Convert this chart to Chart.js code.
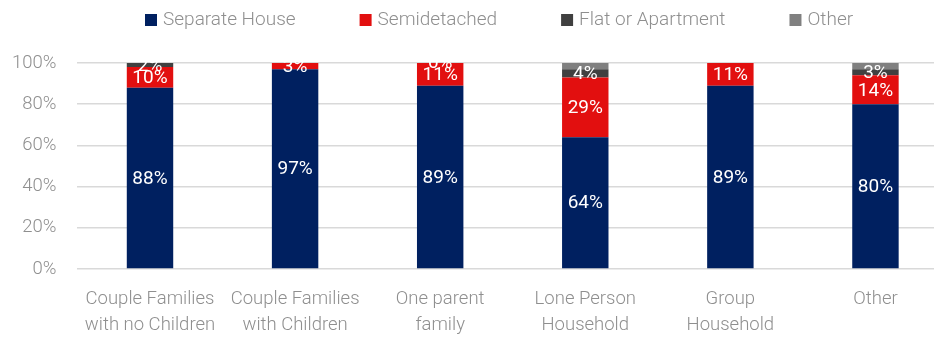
<!DOCTYPE html>
<html>
<head>
<meta charset="utf-8">
<script src="https://cdn.jsdelivr.net/npm/chart.js@4.4.0/dist/chart.umd.min.js"></script>
<style>
  html, body { margin: 0; padding: 0; background: #fff; overflow: hidden; height: 337px; }
  #wrap { width: 948px; height: 348px; }
</style>
</head>
<body>
<div id="wrap"><canvas id="chart-dwelling"></canvas></div>
<script>
const categorias = [
  ['Couple Families', 'with no Children'],
  ['Couple Families', 'with Children'],
  ['One parent', 'family'],
  ['Lone Person', 'Household'],
  ['Group', 'Household'],
  ['Other']
];
const separateHouse = [88, 97, 89, 64, 89, 80];
const semidetached = [10, 3, 11, 29, 11, 14];
const flatApartment = [2, 0, 0.4, 4, 0, 3];
const otherDwelling = [0, 0, 0, 3, 0, 3];
const yTicks = [0, 20, 40, 60, 80, 100];

const corTexto = '#8f8f8f';
const fonteTexto = { family: 'Roboto', size: 18.5, weight: 300, lineHeight: 1.38 };

// desenha os rótulos brancos no meio de cada segmento
const rotulosBarras = {
  id: 'rotulosBarras',
  afterDatasetsDraw(chart) {
    const ctx = chart.ctx;
    ctx.save();
    ctx.fillStyle = '#ffffff';
    ctx.font = '19px Roboto';
    ctx.textAlign = 'center';
    ctx.textBaseline = 'middle';
    chart.data.datasets.forEach((ds, i) => {
      if (i === 3) return; // série "Other" sem rótulo
      const meta = chart.getDatasetMeta(i);
      meta.data.forEach((bar, j) => {
        const v = ds.data[j];
        if (!v) return;
        const yMeio = (bar.y + bar.base) / 2;
        ctx.fillText(Math.round(v) + '%', bar.x, yMeio + 1);
      });
    });
    ctx.restore();
  }
};

// legenda própria (espaçamento horizontal largo, pouco espaço vertical)
const legendaTopo = {
  id: 'legendaTopo',
  afterDraw(chart) {
    const ctx = chart.ctx;
    ctx.save();
    ctx.font = '300 19px Roboto';
    ctx.textBaseline = 'middle';
    let x = 145;
    const y = 20;
    chart.data.datasets.forEach((ds) => {
      ctx.fillStyle = ds.backgroundColor;
      ctx.fillRect(x, y - 6, 12, 12);
      ctx.fillStyle = corTexto;
      ctx.fillText(ds.label, x + 18, y);
      x += 18 + ctx.measureText(ds.label).width + 64;
    });
    ctx.restore();
  }
};

const dataDwelling = {
  labels: categorias,
  datasets: [
    { label: 'Separate House', data: separateHouse, backgroundColor: '#002060' },
    { label: 'Semidetached', data: semidetached, backgroundColor: '#e20f0f' },
    { label: 'Flat or Apartment', data: flatApartment, backgroundColor: '#404040' },
    { label: 'Other', data: otherDwelling, backgroundColor: '#808080' }
  ]
};

const configDwelling = {
  type: 'bar',
  data: dataDwelling,
  options: {
    responsive: true,
    maintainAspectRatio: false,
    animation: false,
    layout: { padding: { top: 63, left: -9, right: 0, bottom: 0 } },
    datasets: {
      bar: { categoryPercentage: 1, barPercentage: 0.32, borderWidth: 0 }
    },
    plugins: {
      tooltip: { enabled: false },
      legend: { display: false }
    },
    scales: {
      x: {
        stacked: true,
        grid: { display: false },
        border: { display: false },
        ticks: {
          color: corTexto,
          font: fonteTexto,
          maxRotation: 0,
          autoSkip: false,
          padding: 10
        }
      },
      y: {
        stacked: true,
        min: 0,
        max: 100,
        afterBuildTicks: (axis) => { axis.ticks = yTicks.map(v => ({ value: v })); },
        grid: { color: '#d9d9d9', lineWidth: 1.5, drawTicks: false },
        border: { display: false },
        ticks: {
          color: corTexto,
          font: fonteTexto,
          padding: 21,
          callback: (v) => v + '%'
        }
      }
    }
  },
  plugins: [rotulosBarras, legendaTopo]
};

const myChartDwelling = new Chart(
  document.getElementById('chart-dwelling'),
  configDwelling
);
</script>
</body>
</html>
